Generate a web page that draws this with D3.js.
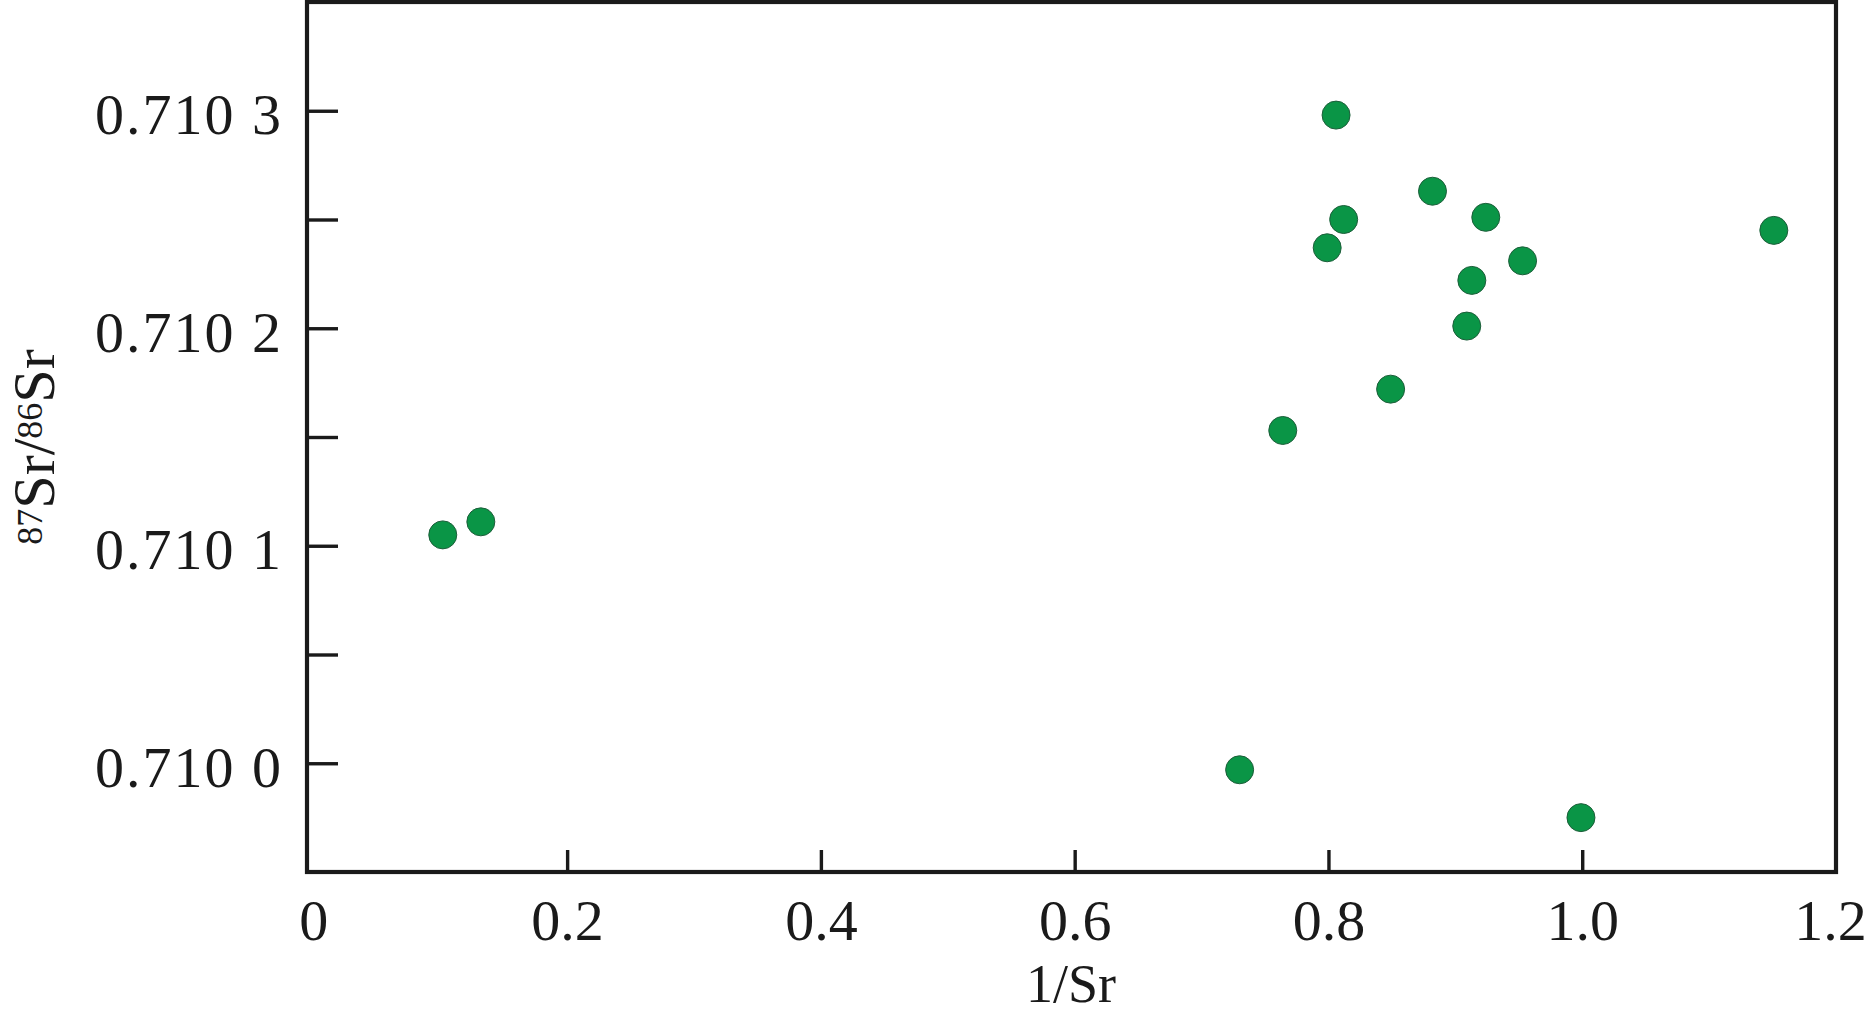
<!DOCTYPE html>
<html>
<head>
<meta charset="utf-8">
<script src="https://cdn.jsdelivr.net/npm/d3@7"></script>
<style>
  html, body { margin: 0; padding: 0; background: #ffffff; }
  svg { display: block; }
  text { font-family: "Liberation Serif", "Times New Roman", "DejaVu Serif", serif; fill: #1a1a1a; }
</style>
</head>
<body>
<svg id="chart" width="1868" height="1015"></svg>
<script>
// ---- data ----
const invSr = [0.102, 0.132, 0.730, 0.764, 0.799, 0.806, 0.812, 0.849, 0.882, 0.909, 0.913, 0.924, 0.953, 0.999, 1.151];
const srRatio = [0.710105, 0.710111, 0.709997, 0.710153, 0.710237, 0.710298, 0.710250, 0.710172, 0.710263, 0.710201, 0.710222, 0.710251, 0.710231, 0.709975, 0.710245];

const xTickValues = [0, 0.2, 0.4, 0.6, 0.8, 1.0, 1.2];
const xTickLabels = ["0", "0.2", "0.4", "0.6", "0.8", "1.0", "1.2"];
const yTickValues = [0.7100, 0.71005, 0.7101, 0.71015, 0.7102, 0.71025, 0.7103];
const yTickLabels = ["0.710 0", "", "0.710 1", "", "0.710 2", "", "0.710 3"];

const xTitle = "1/Sr";

// ---- layout ----
const plotLeft = 307, plotRight = 1836, plotTop = 2, plotBottom = 872;
const svg = d3.select("#chart");

const x = d3.scaleLinear().domain([-0.005, 1.2]).range([plotLeft, plotRight]);
const y = d3.scaleLinear().domain([0.70995, 0.71035]).range([plotBottom, plotTop]);

// y axis (ticks pointing inward)
const yAxis = d3.axisLeft(y)
  .tickValues(yTickValues)
  .tickFormat((d, i) => yTickLabels[i])
  .tickSizeInner(-31)
  .tickSizeOuter(0)
  .tickPadding(24);

const gy = svg.append("g").attr("transform", `translate(${plotLeft},0)`).call(yAxis);
gy.select(".domain").remove();
gy.selectAll(".tick line").attr("stroke", "#1a1a1a").attr("stroke-width", 3.4);
gy.selectAll(".tick text")
  .attr("dy", "0.40em")
  .style("font-size", "58px")
  .style("letter-spacing", "2px")
  .style("font-family", "'Liberation Serif', 'Times New Roman', serif")
  .attr("fill", "#1a1a1a");

// x axis (ticks pointing inward)
const xAxis = d3.axisBottom(x)
  .tickValues(xTickValues)
  .tickFormat((d, i) => xTickLabels[i])
  .tickSizeInner(-22)
  .tickSizeOuter(0)
  .tickPadding(0);

const gx = svg.append("g").attr("transform", `translate(0,${plotBottom})`).call(xAxis);
gx.select(".domain").remove();
gx.selectAll(".tick line")
  .attr("stroke", "#1a1a1a").attr("stroke-width", 3.4)
  .attr("display", (d, i) => (i === 0 || i === xTickValues.length - 1) ? "none" : null);
gx.selectAll(".tick text")
  .attr("y", 68)
  .attr("dy", "0")
  .attr("dx", (d, i) => i === xTickValues.length - 1 ? -6 : 0)
  .style("font-size", "58px")
  .style("font-family", "'Liberation Serif', 'Times New Roman', serif")
  .attr("fill", "#1a1a1a");

// frame
svg.append("rect")
  .attr("x", plotLeft).attr("y", plotTop)
  .attr("width", plotRight - plotLeft).attr("height", plotBottom - plotTop)
  .attr("fill", "none")
  .attr("stroke", "#1a1a1a")
  .attr("stroke-width", 4.2);

// points
svg.append("g")
  .selectAll("circle")
  .data(invSr.map((v, i) => ({ x: v, y: srRatio[i] })))
  .join("circle")
  .attr("cx", d => x(d.x))
  .attr("cy", d => y(d.y))
  .attr("r", 14)
  .attr("fill", "#0a9546")
  .attr("stroke", "#1d5e3a")
  .attr("stroke-width", 1);

// x title
svg.append("text")
  .attr("x", 1071).attr("y", 1002)
  .attr("text-anchor", "middle")
  .style("font-size", "54px")
  .text(xTitle);

// y title with superscripts
const yt = svg.append("text")
  .attr("transform", "translate(54,447) rotate(-90)")
  .attr("text-anchor", "middle")
  .style("font-size", "60px");
yt.append("tspan").attr("baseline-shift", "34%").style("font-size", "36px").text("87");
yt.append("tspan").text("Sr/");
yt.append("tspan").attr("baseline-shift", "34%").style("font-size", "36px").text("86");
yt.append("tspan").text("Sr");
</script>
</body>
</html>
